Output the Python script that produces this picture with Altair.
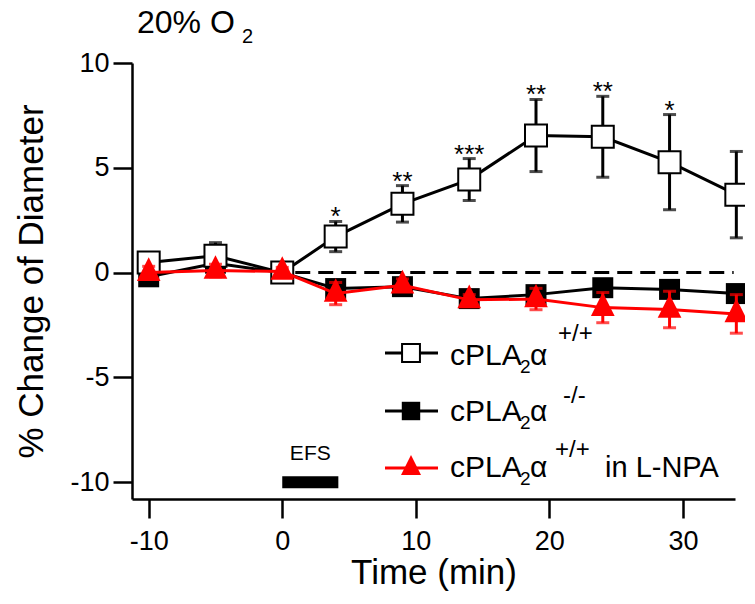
import altair as alt
import pandas as pd

# ---------------- data ----------------
times = [-10, -5, 0, 4, 9, 14, 19, 24, 29, 34]
wt_mean = [0.48, 0.80, 0.00, 1.72, 3.28, 4.44, 6.54, 6.48, 5.27, 3.72]
wt_err = [0.40, 0.63, 0.20, 0.72, 0.87, 1.00, 1.72, 1.93, 2.27, 2.06]
ko_mean = [-0.20, 0.45, 0.00, -0.76, -0.67, -1.24, -1.05, -0.72, -0.80, -1.00]
ko_err = [0.30, 0.35, 0.15, 0.30, 0.30, 0.30, 0.35, 0.35, 0.35, 0.40]
lnpa_mean = [0.00, 0.10, 0.05, -1.00, -0.60, -1.30, -1.26, -1.67, -1.76, -1.97]
lnpa_err = [0.30, 0.30, 0.20, 0.53, 0.30, 0.25, 0.51, 0.72, 0.87, 0.92]
wt_sig = ["", "", "", "*", "**", "***", "**", "**", "*", ""]

x_ticks = [-10, 0, 10, 20, 30]
y_ticks = [-10, -5, 0, 5, 10]
x_domain = [-11.25, 33.9]
y_domain = [-10.8, 10]

efs_start, efs_end, efs_level, efs_label = 0, 4.2, -10, "EFS"
base_start, base_end, base_level = 0, 33.8, 0

title_main, title_sub = "20% O", "2"
x_title = "Time (min)"
y_title = "% Change of Diameter"
legend_stem, legend_sub, legend_alpha = "cPLA", "2", "\u03b1"
legend_sup = ["+/+", "-/-", "+/+"]
legend_suffix = "in L-NPA"

FONT = "Liberation Sans"
TRI = "M0,-1.3L1,0.7L-1,0.7Z"
LABEL_EXPR = "'' + datum.value"

xs = alt.Scale(domain=x_domain, nice=False, zero=False)
ys = alt.Scale(domain=y_domain, nice=False, zero=False)


def series_df(mean, err, sig=None):
    d = pd.DataFrame({"t": times, "m": mean, "e": err})
    d["lo"] = d["m"] - d["e"]
    d["hi"] = d["m"] + d["e"]
    if sig is not None:
        d["sig"] = sig
    return d


wt = series_df(wt_mean, wt_err, wt_sig)
ko = series_df(ko_mean, ko_err)
ln = series_df(lnpa_mean, lnpa_err)

X = alt.X("t:Q", scale=xs, axis=alt.Axis(values=x_ticks, title=x_title, labelPadding=10,
                                         titlePadding=1, labelExpr=LABEL_EXPR))
Y = alt.Y("m:Q", scale=ys, axis=alt.Axis(values=y_ticks, title=y_title, labelPadding=4,
                                         titlePadding=20, labelExpr=LABEL_EXPR))


def series_layers(d, color, point_mark):
    base = alt.Chart(d)
    bars = base.mark_rule(color=color, strokeWidth=3).encode(
        x=alt.X("t:Q", scale=xs), y=alt.Y("lo:Q", scale=ys), y2="hi:Q")
    cap_lo = base.mark_tick(color=color, thickness=3, size=13, orient="horizontal").encode(
        x=alt.X("t:Q", scale=xs), y=alt.Y("lo:Q", scale=ys))
    cap_hi = base.mark_tick(color=color, thickness=3, size=13, orient="horizontal").encode(
        x=alt.X("t:Q", scale=xs), y=alt.Y("hi:Q", scale=ys))
    line = base.mark_line(color=color, strokeWidth=3).encode(x=X, y=Y)
    pts = base.mark_point(**point_mark).encode(x=alt.X("t:Q", scale=xs), y=alt.Y("m:Q", scale=ys))
    return [bars, cap_lo, cap_hi, line, pts]


ko_layers = series_layers(ko, "black", dict(shape="square", filled=True, color="black", size=440, opacity=1))
wt_layers = series_layers(wt, "black", dict(shape="square", filled=True, fill="white", stroke="black",
                                              strokeWidth=2, size=484, opacity=1))
ln_layers = series_layers(ln, "red", dict(shape=TRI, filled=True, color="red", size=560, opacity=1))

stars = alt.Chart(wt).mark_text(fontSize=26, font=FONT, baseline="alphabetic", dy=4, color="black").encode(
    x=alt.X("t:Q", scale=xs), y=alt.Y("hi:Q", scale=ys), text="sig:N")

ref_df = pd.DataFrame({"a": [base_start], "b": [base_end], "y": [base_level]})
zero_line = alt.Chart(ref_df).mark_rule(color="black", strokeWidth=3, strokeDash=[15, 8], strokeDashOffset=10).encode(
    x=alt.X("a:Q", scale=xs), x2="b:Q", y=alt.Y("y:Q", scale=ys))

efs_df = pd.DataFrame({"a": [efs_start], "b": [efs_end], "y": [efs_level], "lab": [efs_label]})
efs_df["mid"] = (efs_df["a"] + efs_df["b"]) / 2
efs_bar = alt.Chart(efs_df).mark_rule(color="black", strokeWidth=12).encode(
    x=alt.X("a:Q", scale=xs), x2="b:Q", y=alt.Y("y:Q", scale=ys))
efs_txt = alt.Chart(efs_df).mark_text(fontSize=21, font=FONT, baseline="middle", dy=-28, color="black").encode(
    x=alt.X("mid:Q", scale=xs), y=alt.Y("y:Q", scale=ys), text="lab:N")

dummy = alt.Data(values=[{"k": 0}])


def txt(s, x, y, size, color="black", align="left"):
    return alt.Chart(dummy).mark_text(text=s, fontSize=size, font=FONT, align=align,
                                      baseline="alphabetic", color=color).encode(
        x=alt.value(x), y=alt.value(y))


def seg(x1, x2, y, color):
    return alt.Chart(dummy).mark_rule(color=color, strokeWidth=3).encode(
        x=alt.value(x1), x2=alt.value(x2), y=alt.value(y))


def sym(x, y, mark):
    return alt.Chart(dummy).mark_point(**mark).encode(x=alt.value(x), y=alt.value(y))


legend = []
rows = [
    (290, 302, "black", dict(shape="square", filled=True, fill="white", stroke="black", strokeWidth=2, size=320, opacity=1), 426, 278),
    (348, 358, "black", dict(shape="square", filled=True, color="black", size=340, opacity=1), 431, 340),
    (405, 414, "red", dict(shape=TRI, filled=True, color="red", size=400, opacity=1), 423, 394),
]
for i, (ysym, ybase, col, mk, supx, supy) in enumerate(rows):
    legend.append(seg(253, 306, ysym, col))
    legend.append(sym(279, ysym, mk))
    legend.append(txt(legend_stem, 318, ybase, 30))
    legend.append(txt(legend_sub, 388, ybase + 8, 19))
    legend.append(txt(legend_alpha, 398, ybase, 30))
    legend.append(txt(legend_sup[i], supx, supy, 24))
legend.append(txt(legend_suffix, 473, 414, 29))

title_layers = [txt(title_main, 5, -30, 32), txt(title_sub, 110, -20, 20)]

layers = [zero_line, efs_bar, efs_txt] + ko_layers + wt_layers + [stars] + ln_layers + legend + title_layers

chart = alt.layer(*layers).properties(
    width=603, height=436,
    padding={"left": 124, "top": 55, "right": 10, "bottom": 93},
    autosize=alt.AutoSizeParams(type="none"),
).configure_view(stroke=None).configure_axis(
    grid=False, domainColor="black", domainWidth=2.5, tickColor="black", tickWidth=2.5, tickSize=19,
    labelFont=FONT, titleFont=FONT, labelFontSize=27, titleFontSize=35, titleFontWeight="normal",
    labelColor="black", titleColor="black", labelOverlap=False,
)

chart.save("out.html", embed_options={"renderer": "svg", "actions": False})
